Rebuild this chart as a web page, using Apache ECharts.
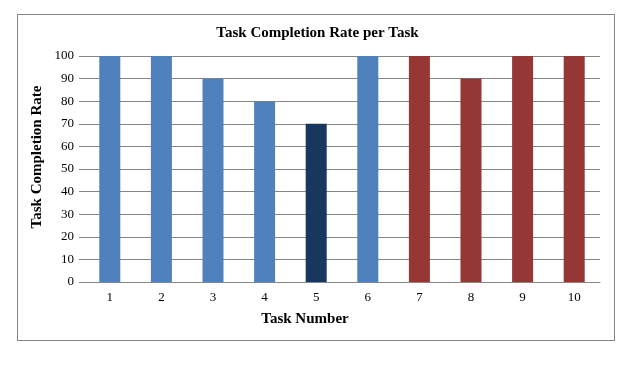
<!DOCTYPE html>
<html><head><meta charset="utf-8">
<script src="https://cdn.jsdelivr.net/npm/echarts@6/dist/echarts.min.js"></script>
<style>html,body{margin:0;padding:0;background:#fff}#c{width:635px;height:371px}
#frame{position:absolute;left:17px;top:14px;width:598px;height:327px;border:1px solid #868686;box-sizing:border-box;pointer-events:none}</style>
</head><body><div id="c"></div><div id="frame"></div>
<script>
const categories = ['1','2','3','4','5','6','7','8','9','10'];
const values = [100,100,90,80,70,100,100,90,100,100];
const barColors = ['#4F81BD','#4F81BD','#4F81BD','#4F81BD','#17375E','#4F81BD','#953735','#953735','#953735','#953735'];
const titleText = 'Task Completion Rate per Task';
const xName = 'Task Number';
const yName = 'Task Completion Rate';

const chart = echarts.init(document.getElementById('c'), null, {renderer:'canvas'});
const font = '"Liberation Serif","Times New Roman",serif';
chart.setOption({
  animation:false,
  title:{text:titleText,left:'center',top:21,textStyle:{fontFamily:font,fontWeight:'bold',fontSize:15,color:'#000'}},
  grid:{left:84,right:35,top:56,bottom:89},
  xAxis:{type:'category',data:categories,
    name:xName,nameLocation:'middle',nameGap:30,nameMoveOverlap:false,
    nameTextStyle:{fontFamily:font,fontWeight:'bold',fontSize:15,color:'#000',padding:[0,74,0,0]},
    axisLine:{lineStyle:{color:'#868686',width:1}},axisTick:{show:false},
    axisLabel:{fontFamily:font,fontSize:13,color:'#000',margin:9}},
  yAxis:{type:'value',min:0,max:100,interval:10,
    name:yName,nameLocation:'middle',nameGap:39,nameRotate:90,nameMoveOverlap:false,
    nameTextStyle:{fontFamily:font,fontWeight:'bold',fontSize:15,color:'#000',padding:[0,0,0,24]},
    axisLine:{show:false},axisTick:{show:true,length:5,lineStyle:{color:'#868686'}},
    splitLine:{lineStyle:{color:'#868686',width:1}},
    axisLabel:{fontFamily:font,fontSize:13,color:'#000',margin:10}},
  series:[{type:'bar',barWidth:21,
    data:values.map((v,i)=>({value:v,itemStyle:{color:barColors[i]}}))}]
});
</script></body></html>
